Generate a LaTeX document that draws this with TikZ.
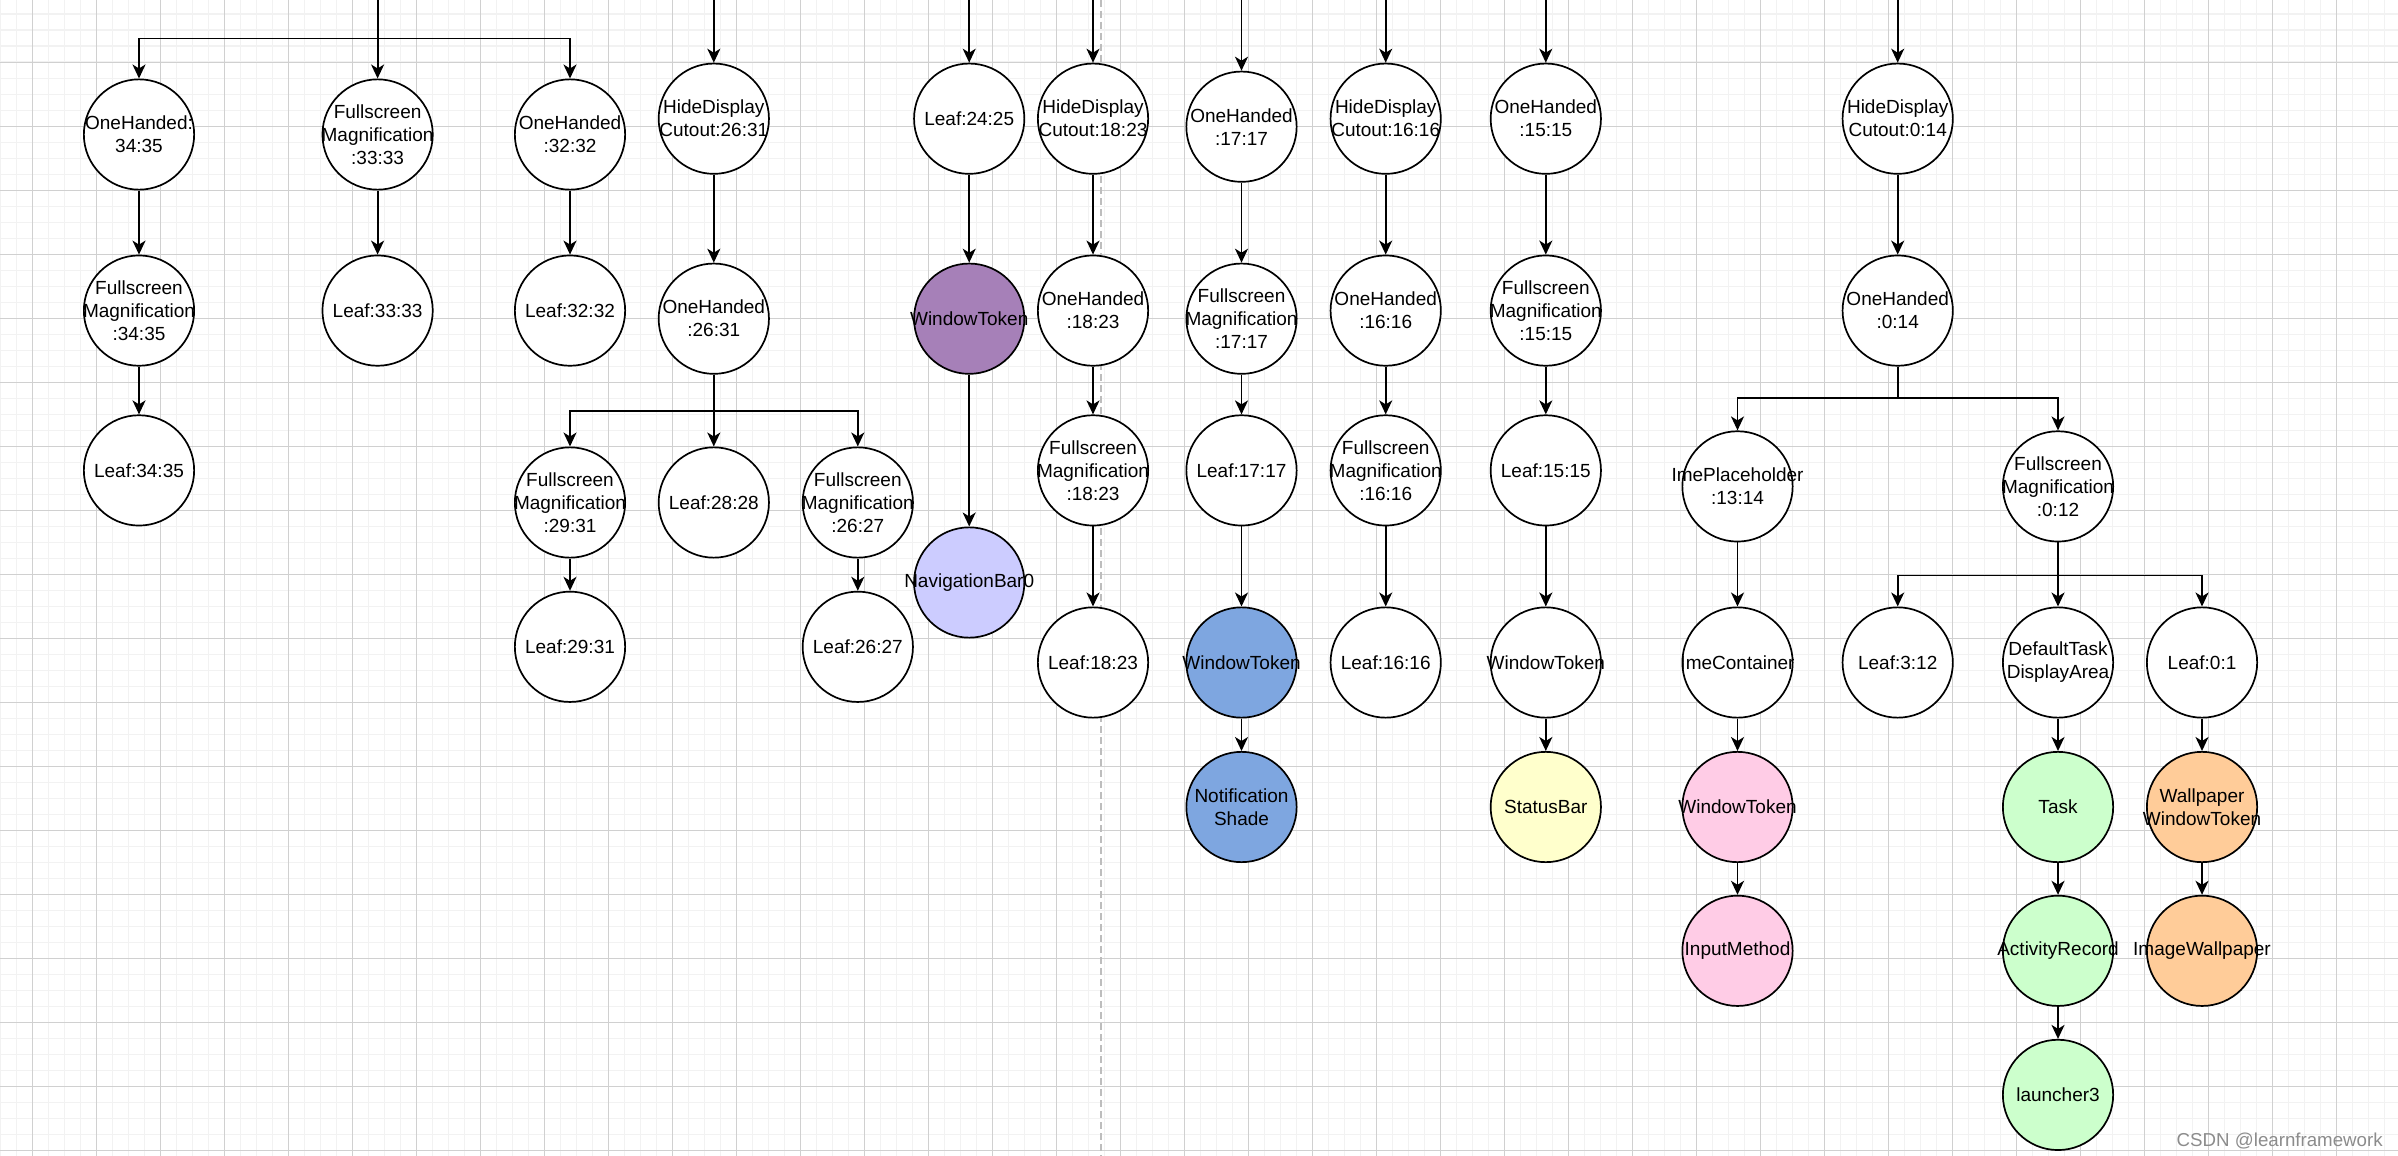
\documentclass[tikz,border=0pt]{standalone}
\usepackage{fontspec}
\setmainfont{Liberation Sans}
\usetikzlibrary{arrows.meta}
\definecolor{cpurple}{HTML}{A680B8}
\definecolor{cnav}{HTML}{CCCCFF}
\definecolor{cblue}{HTML}{7EA6E0}
\definecolor{cyellow}{HTML}{FFFFCC}
\definecolor{cpink}{HTML}{FFCCE6}
\definecolor{cgreen}{HTML}{CCFFCC}
\definecolor{corange}{HTML}{FFCC99}
\definecolor{gridminor}{HTML}{F2F2F2}
\definecolor{gridmajor}{HTML}{D0D0D0}
\definecolor{dashgray}{HTML}{BDBDBD}
\definecolor{wmark}{HTML}{8C8C8C}
\newcommand{\cnode}[4][white]{%
  \node[nd, fill=#1] (#2) at (#3) {};
  \node[lbl] (#2t) at (#2.center) {#4};}
\begin{document}
\begin{tikzpicture}[x=1pt,y=-1pt,
  nd/.style={circle, draw=black, line width=1.7pt, minimum size=110.3pt, inner sep=0pt},
  lbl/.style={inner sep=0pt, align=center, text=black, font=\fontsize{19}{23}\selectfont},
  arr/.style={draw=black, line width=1.8pt, -{Stealth[length=14pt,width=13pt,inset=4pt]}},
  minorline/.style={draw=gridminor, line width=1.6pt},
  majorline/.style={draw=gridmajor, line width=1pt},
  sepline/.style={draw=dashgray, line width=1.6pt, dash pattern=on 7pt off 4pt}
]
\useasboundingbox (0,0) rectangle (2398,1156);
\fill[white] (0,0) rectangle (2398,1156);
% grid
\foreach \i in {0,...,150} \draw[minorline] (16*\i+0.3,0) -- (16*\i+0.3,1156);
\foreach \j in {0,...,73} \draw[minorline] (0,16*\j-1.7) -- (2398,16*\j-1.7);
\foreach \i in {0,...,37} \draw[majorline] (64*\i+32.3,0) -- (64*\i+32.3,1156);
\foreach \j in {1,...,18} \draw[majorline] (0,64*\j-1.7) -- (2398,64*\j-1.7);
% dashed separator
\coordinate (sepTop) at (1100.7,0);
\coordinate (sepBot) at (1100.7,1156);
\draw[sepline] (sepTop) -- (sepBot);

% row 1
\cnode{oh3435}{139,134.5}{OneHanded:\\34:35}
\cnode{fm3333}{377.6,134.5}{Fullscreen\\Magnification\\:33:33}
\cnode{oh3232}{570,134.5}{OneHanded\\:32:32}
\cnode{hd2631}{713.8,118.7}{HideDisplay\\Cutout:26:31}
\cnode{lf2425}{969.2,118.7}{Leaf:24:25}
\cnode{hd1823}{1093,118.7}{HideDisplay\\Cutout:18:23}
\cnode{oh1717}{1241.5,126.7}{OneHanded\\:17:17}
\cnode{hd1616}{1385.7,118.7}{HideDisplay\\Cutout:16:16}
\cnode{oh1515}{1545.8,118.7}{OneHanded\\:15:15}
\cnode{hd014}{1897.7,118.7}{HideDisplay\\Cutout:0:14}
% row 2
\cnode{fm3435}{139,310.6}{Fullscreen\\Magnification\\:34:35}
\cnode{lf3333}{377.6,310.6}{Leaf:33:33}
\cnode{lf3232}{570,310.6}{Leaf:32:32}
\cnode{oh2631}{713.8,318.7}{OneHanded\\:26:31}
\cnode[cpurple]{wt1}{969.2,318.7}{WindowToken}
\cnode{oh1823}{1093,310.6}{OneHanded\\:18:23}
\cnode{fm1717}{1241.5,318.7}{Fullscreen\\Magnification\\:17:17}
\cnode{oh1616}{1385.7,310.6}{OneHanded\\:16:16}
\cnode{fm1515}{1545.8,310.6}{Fullscreen\\Magnification\\:15:15}
\cnode{oh014}{1897.7,310.6}{OneHanded\\:0:14}
% row 3
\cnode{lf3435}{139,470.4}{Leaf:34:35}
\cnode{fm2931}{570,502.5}{Fullscreen\\Magnification\\:29:31}
\cnode{lf2828}{713.8,502.5}{Leaf:28:28}
\cnode{fm2627}{857.8,502.5}{Fullscreen\\Magnification\\:26:27}
\cnode[cnav]{nav}{969.2,582.5}{NavigationBar0}
\cnode{fm1823}{1093,470.4}{Fullscreen\\Magnification\\:18:23}
\cnode{lf1717}{1241.5,470.4}{Leaf:17:17}
\cnode{fm1616}{1385.7,470.4}{Fullscreen\\Magnification\\:16:16}
\cnode{lf1515}{1545.8,470.4}{Leaf:15:15}
\cnode{imep}{1737.5,486.4}{ImePlaceholder\\:13:14}
\cnode{fm012}{2058,486.4}{Fullscreen\\Magnification\\:0:12}
% row 4
\cnode{lf2931}{570,646.8}{Leaf:29:31}
\cnode{lf2627}{857.8,646.8}{Leaf:26:27}
\cnode{lf1823}{1093,662.5}{Leaf:18:23}
\cnode[cblue]{wt2}{1241.5,662.5}{WindowToken}
\cnode{lf1616}{1385.7,662.5}{Leaf:16:16}
\cnode{wt3}{1545.8,662.5}{WindowToken}
\cnode{imec}{1737.5,662.5}{ImeContainer}
\cnode{lf312}{1897.7,662.5}{Leaf:3:12}
\cnode{dtda}{2058,662.5}{DefaultTask\\DisplayArea}
\cnode{lf01}{2202,662.5}{Leaf:0:1}
% row 5
\cnode[cblue]{ns}{1241.5,807}{Notification\\Shade}
\cnode[cyellow]{sb}{1545.8,807}{StatusBar}
\cnode[cpink]{wt4}{1737.5,807}{WindowToken}
\cnode[cgreen]{task}{2058,807}{Task}
\cnode[corange]{wwt}{2202,807}{Wallpaper\\WindowToken}
% row 6
\cnode[cpink]{im}{1737.5,950.8}{InputMethod}
\cnode[cgreen]{ar}{2058,950.8}{ActivityRecord}
\cnode[corange]{iw}{2202,950.8}{ImageWallpaper}
% row 7
\cnode[cgreen]{l3}{2058,1094.9}{launcher3}

% incoming from above
\coordinate (t1) at (377.6,0);
\coordinate (t2) at (713.8,0);
\coordinate (t3) at (969.2,0);
\coordinate (t4) at (1093,0);
\coordinate (t5) at (1241.5,0);
\coordinate (t6) at (1385.7,0);
\coordinate (t7) at (1545.8,0);
\coordinate (t8) at (1897.7,0);

\draw[arr] (t1) -- ++(0,38.6) -| (oh3435.north);
\draw[arr] (t1) -- (fm3333);
\draw[arr] (t1) -- ++(0,38.6) -| (oh3232.north);
\draw[arr] (t2) -- (hd2631);
\draw[arr] (t3) -- (lf2425);
\draw[arr] (t4) -- (hd1823);
\draw[arr] (t5) -- (oh1717);
\draw[arr] (t6) -- (hd1616);
\draw[arr] (t7) -- (oh1515);
\draw[arr] (t8) -- (hd014);

\draw[arr] (oh3435) -- (fm3435);
\draw[arr] (fm3435) -- (lf3435);
\draw[arr] (fm3333) -- (lf3333);
\draw[arr] (oh3232) -- (lf3232);

\draw[arr] (hd2631) -- (oh2631);
\draw[arr] (oh2631.south) -- ++(0,36) -| (fm2931.north);
\draw[arr] (oh2631) -- (lf2828);
\draw[arr] (oh2631.south) -- ++(0,36) -| (fm2627.north);
\draw[arr] (fm2931) -- (lf2931);
\draw[arr] (fm2627) -- (lf2627);

\draw[arr] (lf2425) -- (wt1);
\draw[arr] (wt1) -- (nav);

\draw[arr] (hd1823) -- (oh1823);
\draw[arr] (oh1823) -- (fm1823);
\draw[arr] (fm1823) -- (lf1823);

\draw[arr] (oh1717) -- (fm1717);
\draw[arr] (fm1717) -- (lf1717);
\draw[arr] (lf1717) -- (wt2);
\draw[arr] (wt2) -- (ns);

\draw[arr] (hd1616) -- (oh1616);
\draw[arr] (oh1616) -- (fm1616);
\draw[arr] (fm1616) -- (lf1616);

\draw[arr] (oh1515) -- (fm1515);
\draw[arr] (fm1515) -- (lf1515);
\draw[arr] (lf1515) -- (wt3);
\draw[arr] (wt3) -- (sb);

\draw[arr] (hd014) -- (oh014);
\draw[arr] (oh014.south) -- ++(0,31.4) -| (imep.north);
\draw[arr] (oh014.south) -- ++(0,31.4) -| (fm012.north);
\draw[arr] (imep) -- (imec);
\draw[arr] (imec) -- (wt4);
\draw[arr] (wt4) -- (im);

\draw[arr] (fm012.south) -- ++(0,33) -| (lf312.north);
\draw[arr] (fm012) -- (dtda);
\draw[arr] (fm012.south) -- ++(0,33) -| (lf01.north);
\draw[arr] (dtda) -- (task);
\draw[arr] (task) -- (ar);
\draw[arr] (ar) -- (l3);
\draw[arr] (lf01) -- (wwt);
\draw[arr] (wwt) -- (iw);

% watermark
\node[anchor=base, inner sep=0pt, text=wmark, font=\fontsize{18.7}{22}\selectfont] (wm) at (2279.7,1146) {CSDN @learnframework};
\end{tikzpicture}
\end{document}
